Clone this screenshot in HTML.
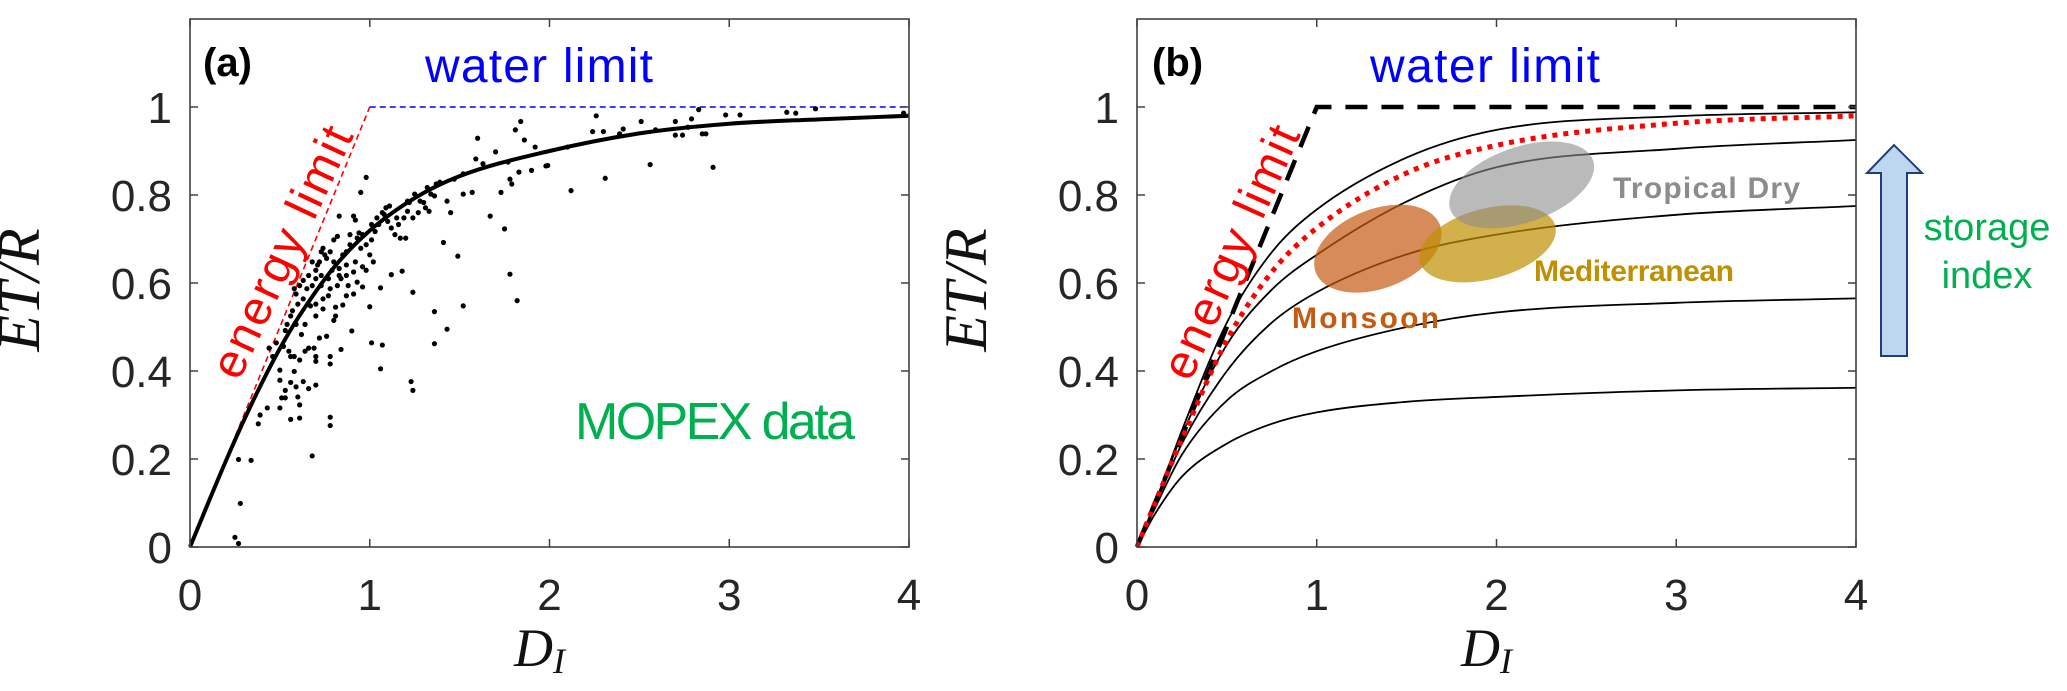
<!DOCTYPE html>
<html><head><meta charset="utf-8"><style>
html,body{margin:0;padding:0;background:#fff;}
svg{display:block;}
text{font-family:"Liberation Sans",sans-serif;}
text.serif{font-family:"Liberation Serif",serif;}
</style></head><body>
<svg id="fig" width="2067" height="691" viewBox="0 0 2067 691" xmlns="http://www.w3.org/2000/svg">
<g id="panelA"></g>
<g id="panelB"></g>
</svg>
<script>
// ---- data ----
const xTicks=[0,1,2,3,4];
const yTicks=[0,0.2,0.4,0.6,0.8,1];
const yTickLabels=["0","0.2","0.4","0.6","0.8","1"];
const limitX=[0,1,4];
const limitY=[0,1,1];
const fuX=[0,0.1,0.2,0.3,0.4,0.5,0.6,0.8,1,1.25,1.5,2,2.5,3,3.5,4];
const fuY=[0,0.099,0.196,0.288,0.373,0.451,0.52,0.635,0.719,0.793,0.843,0.9,0.94,0.962,0.972,0.98];
const mopexDI=[0.25,0.27,0.28,0.27,0.34,0.68,0.38,0.43,0.39,0.50,0.51,0.53,0.56,0.61,0.60,0.61,0.78,0.78,0.44,0.50,0.50,0.56,0.58,0.53,0.59,0.66,0.70,0.63,0.61,0.55,0.56,0.58,0.64,0.66,0.69,0.70,0.70,0.78,0.78,0.76,0.72,0.62,0.84,0.90,1.01,1.07,1.06,1.23,1.24,1.36,1.43,1.36,1.52,1.24,1.12,1.18,1.00,0.96,1.06,0.80,0.81,0.81,0.85,0.87,0.91,0.88,0.93,0.98,0.96,0.91,0.87,0.84,0.82,0.78,0.74,0.70,0.67,0.63,0.59,0.58,0.56,0.54,0.53,0.65,0.68,0.70,0.73,0.70,0.72,0.75,0.78,0.80,0.83,0.85,0.87,0.89,0.93,0.96,0.95,0.98,1.01,1.03,1.05,1.01,1.04,1.07,1.09,1.10,1.12,1.14,1.17,1.20,1.16,1.19,1.21,1.22,1.25,1.28,1.31,1.33,1.34,1.37,1.39,1.43,1.45,1.47,1.52,1.52,1.57,1.59,1.60,1.63,1.70,1.73,1.77,1.78,1.79,1.83,1.81,1.84,1.86,1.92,1.90,1.99,1.67,1.75,1.78,1.82,1.41,1.49,0.95,0.98,0.83,0.92,0.91,0.82,0.80,0.74,0.73,0.76,0.71,0.68,0.66,0.63,0.61,0.73,0.77,0.79,0.89,0.94,1.00,1.02,1.08,1.11,1.15,1.21,1.24,1.27,1.30,1.36,1.32,0.92,0.87,0.83,0.77,0.70,0.74,0.60,0.57,0.59,0.64,0.52,0.48,0.46,1.98,2.12,2.10,2.24,2.26,2.30,2.31,2.39,2.41,2.51,2.56,2.59,2.70,2.70,2.74,2.77,2.79,2.83,2.85,2.87,2.91,2.98,3.06,3.32,3.37,3.48,3.97];
const mopexET=[0.022,0.008,0.099,0.199,0.197,0.207,0.28,0.316,0.30,0.316,0.339,0.339,0.29,0.293,0.341,0.323,0.295,0.276,0.452,0.402,0.379,0.374,0.399,0.356,0.364,0.36,0.368,0.376,0.425,0.445,0.433,0.433,0.445,0.452,0.452,0.433,0.422,0.433,0.416,0.479,0.475,0.483,0.449,0.491,0.464,0.459,0.405,0.376,0.356,0.462,0.495,0.535,0.548,0.579,0.619,0.627,0.546,0.591,0.589,0.515,0.525,0.545,0.55,0.571,0.575,0.594,0.602,0.629,0.637,0.625,0.617,0.61,0.594,0.587,0.564,0.552,0.548,0.564,0.575,0.587,0.525,0.506,0.492,0.587,0.594,0.61,0.617,0.629,0.648,0.664,0.671,0.648,0.633,0.664,0.671,0.687,0.702,0.71,0.679,0.687,0.698,0.717,0.733,0.733,0.748,0.76,0.771,0.74,0.725,0.71,0.702,0.702,0.733,0.748,0.763,0.783,0.802,0.786,0.771,0.763,0.802,0.825,0.829,0.786,0.76,0.836,0.848,0.802,0.806,0.882,0.929,0.871,0.898,0.806,0.875,0.836,0.825,0.852,0.948,0.967,0.925,0.909,0.856,0.867,0.752,0.723,0.62,0.56,0.692,0.661,0.806,0.84,0.752,0.743,0.752,0.706,0.698,0.679,0.671,0.656,0.641,0.648,0.617,0.606,0.594,0.594,0.61,0.629,0.71,0.714,0.664,0.648,0.756,0.775,0.748,0.786,0.748,0.76,0.783,0.798,0.817,0.648,0.641,0.617,0.571,0.525,0.541,0.552,0.537,0.506,0.506,0.456,0.464,0.433,0.866,0.81,0.909,0.944,0.98,0.944,0.838,0.939,0.95,0.967,0.869,0.948,0.967,0.936,0.936,0.954,0.973,0.994,0.939,0.939,0.863,0.982,0.982,0.988,0.986,0.996,0.986];
const curveX=[0,0.1,0.25,0.5,0.75,1,1.5,2,3,4];
const curveRed=[0,0.1,0.245,0.47,0.625,0.725,0.85,0.913,0.963,0.98];
const curve1=[0,0.1,0.265,0.51,0.67,0.767,0.885,0.948,0.979,0.988];
const curve2=[0,0.098,0.255,0.46,0.585,0.664,0.785,0.863,0.905,0.925];
const curve3=[0,0.094,0.235,0.40,0.51,0.579,0.665,0.71,0.755,0.775];
const curve4=[0,0.088,0.21,0.333,0.40,0.445,0.5,0.533,0.555,0.565];
const curve5=[0,0.075,0.16,0.235,0.28,0.306,0.33,0.341,0.356,0.362];
const regionNames=["Monsoon","Mediterranean","Tropical Dry"];
const regionCx=[1.34,1.95,2.14];
const regionCy=[0.678,0.689,0.823];
const regionRx=[0.37,0.39,0.42];
const regionRy=[0.09,0.08,0.086];

// ---- helpers ----
const NS="http://www.w3.org/2000/svg";
function mk(parent,tag,attrs){const e=document.createElementNS(NS,tag);for(const k in attrs)e.setAttribute(k,attrs[k]);parent.appendChild(e);return e;}
function makeAxes(left){
  const top=19,bottom=547,width=719;
  return {left,top,bottom,right:left+width,
    x:v=>left+v*width/4, y:v=>bottom-v*(bottom-top)/1.2};
}
function smoothPath(ax,xs,ys){
  const n=xs.length,px=xs.map(ax.x),py=ys.map(ax.y);
  const d=[],m=[];
  for(let i=0;i<n-1;i++)d.push((py[i+1]-py[i])/(px[i+1]-px[i]));
  m[0]=d[0];m[n-1]=d[n-2];
  for(let i=1;i<n-1;i++)m[i]=(d[i-1]*d[i]<=0)?0:(d[i-1]+d[i])/2;
  let s="M"+px[0]+","+py[0];
  for(let i=0;i<n-1;i++){const h=px[i+1]-px[i];
    s+=" C"+(px[i]+h/3)+","+(py[i]+m[i]*h/3)+" "+(px[i+1]-h/3)+","+(py[i+1]-m[i+1]*h/3)+" "+px[i+1]+","+py[i+1];}
  return s;
}
function polyPath(ax,xs,ys){return xs.map((v,i)=>(i?"L":"M")+ax.x(v)+","+ax.y(ys[i])).join(" ");}
function drawFrame(g,ax,tag){
  const fr=mk(g,"rect",{x:ax.left,y:ax.top,width:ax.right-ax.left,height:ax.bottom-ax.top,fill:"none",stroke:"#404040","stroke-width":1.6});
  
  
  xTicks.forEach(v=>{const X=ax.x(v);
    const t1=mk(g,"line",{x1:X,x2:X,y1:ax.bottom,y2:ax.bottom-8,stroke:"#404040","stroke-width":1.5});
    
    
    mk(g,"line",{x1:X,x2:X,y1:ax.top,y2:ax.top+8,stroke:"#404040","stroke-width":1.5});
    const l=mk(g,"text",{x:X,y:610,"text-anchor":"middle","font-size":44,fill:"#262626"});l.textContent=String(v);
    
    
  });
  yTicks.forEach((v,i)=>{const Y=ax.y(v);
    const t1=mk(g,"line",{x1:ax.left,x2:ax.left+8,y1:Y,y2:Y,stroke:"#404040","stroke-width":1.5});
    
    
    mk(g,"line",{x1:ax.right,x2:ax.right-8,y1:Y,y2:Y,stroke:"#404040","stroke-width":1.5});
    const l=mk(g,"text",{x:ax.left-18,y:Y+16,"text-anchor":"end","font-size":44,fill:"#262626"});l.textContent=yTickLabels[i];
    
    
  });
  const xt=mk(g,"text",{class:"serif",x:(ax.left+ax.right)/2-10,y:666,"text-anchor":"middle","font-size":54,"font-style":"italic",fill:"#111"});
  xt.innerHTML='D<tspan font-size="36" dy="7">I</tspan>';
  
  
  const cx=ax.left-151,cy=290;
  const yt=mk(g,"text",{class:"serif",x:cx,y:cy,"text-anchor":"middle","font-size":60,"font-style":"italic",fill:"#111",transform:"rotate(-90 "+cx+" "+cy+")"});
  yt.textContent="ET/R";
  
  
}
function label(g,txt,attrs,name){const t=mk(g,"text",attrs);t.textContent=txt;
  
  
  return t;}

// ---- panel A ----
const gA=document.getElementById("panelA");
const A=makeAxes(190);
const eA=mk(gA,"path",{d:polyPath(A,limitX.slice(0,2),limitY.slice(0,2)),fill:"none",stroke:"#ff0000","stroke-width":1.6,"stroke-dasharray":"6 4"});


const wA=mk(gA,"path",{d:polyPath(A,limitX.slice(1),limitY.slice(1)),fill:"none",stroke:"#0000ff","stroke-width":1.6,"stroke-dasharray":"6 4"});


mopexDI.forEach((v,i)=>{
  const c=mk(gA,"circle",{cx:A.x(v),cy:A.y(mopexET[i]),r:2.6,fill:"#000"});
  
  
});
const fu=mk(gA,"path",{d:smoothPath(A,fuX,fuY),fill:"none",stroke:"#000","stroke-width":4});


drawFrame(gA,A,"panel-a");
label(gA,"(a)",{x:203,y:76,"font-size":40,"font-weight":"bold",fill:"#000"},"panel-a-label");
label(gA,"water limit",{x:425,y:82,"font-size":48,fill:"#0000ff",textLength:228},"water-limit-label");
label(gA,"MOPEX data",{x:575,y:439,"font-size":52,fill:"#00b050",textLength:280},"mopex-data-label");
label(gA,"energy limit",{x:282,y:268,"font-size":48,fill:"#ff0000","text-anchor":"middle",textLength:272,transform:"rotate(-65 282 252)"},"energy-limit-label");

// ---- panel B ----
const gB=document.getElementById("panelB");
const B=makeAxes(1137);
const lim=mk(gB,"path",{d:polyPath(B,limitX,limitY),fill:"none",stroke:"#000","stroke-width":4.5,"stroke-dasharray":"22 14"});


[curve1,curve2,curve3,curve4,curve5].forEach((c,i)=>{
  const p=mk(gB,"path",{d:smoothPath(B,curveX,c),fill:"none",stroke:"#000","stroke-width":1.8});
  
  
});
const red=mk(gB,"path",{d:smoothPath(B,curveX,curveRed),fill:"none",stroke:"#ff0000","stroke-width":5,"stroke-dasharray":"5 6"});


const regFill=["rgba(197,90,17,0.7)","rgba(191,144,0,0.7)","rgba(140,140,140,0.6)"];
const regRot=[-21,-15,-19];
regionNames.forEach((n,i)=>{
  const cx=B.x(regionCx[i]),cy=B.y(regionCy[i]);
  const e=mk(gB,"ellipse",{cx:cx,cy:cy,rx:regionRx[i]*179.75,ry:regionRy[i]*440,fill:regFill[i],transform:"rotate("+regRot[i]+" "+cx+" "+cy+")"});
  
  
});
drawFrame(gB,B,"panel-b");
label(gB,"(b)",{x:1152,y:76,"font-size":40,"font-weight":"bold",fill:"#000"},"panel-b-label");
label(gB,"water limit",{x:1370,y:82,"font-size":48,fill:"#0000ff",textLength:230},"water-limit-label-b");
label(gB,"energy limit",{x:1231,y:268,"font-size":48,fill:"#ff0000","text-anchor":"middle",textLength:272,transform:"rotate(-66 1231 252)"},"energy-limit-label-b");
label(gB,"Monsoon",{x:1292,y:328,"font-size":30,"font-weight":"bold",fill:"#c55a11",textLength:147},"monsoon-label");
label(gB,"Mediterranean",{x:1534,y:281,"font-size":30,"font-weight":"bold",fill:"#bf9000",textLength:200},"mediterranean-label");
label(gB,"Tropical Dry",{x:1613,y:198,"font-size":30,"font-weight":"bold",fill:"#8c8c8c",textLength:187},"tropical-dry-label");
const arr=mk(gB,"path",{d:"M1881,356 L1881,173 L1867,173 L1894,145 L1922,173 L1907,173 L1907,356 Z",fill:"#bdd7ee",stroke:"#1f3d7a","stroke-width":2});


label(gB,"storage",{x:1987,y:240,"font-size":38,fill:"#00b050","text-anchor":"middle"},"storage-index-label");
label(gB,"index",{x:1987,y:288,"font-size":38,fill:"#00b050","text-anchor":"middle"},"storage-index-label-2");
</script>
</body></html>
